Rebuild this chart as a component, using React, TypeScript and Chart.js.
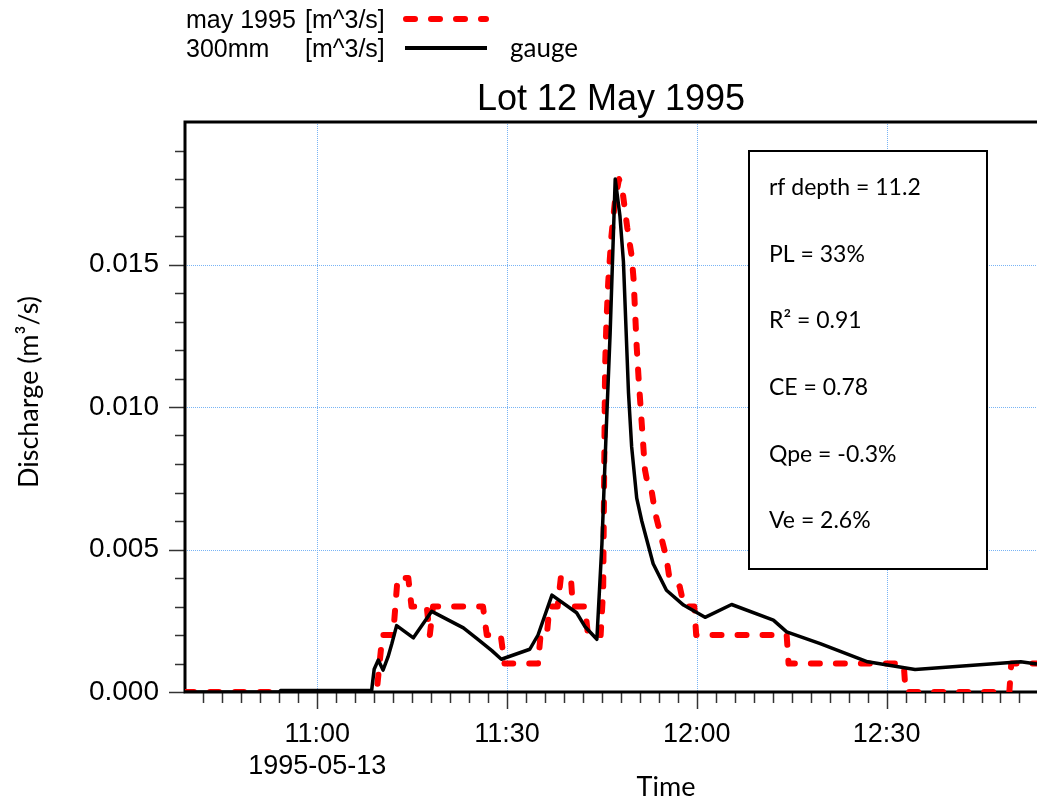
import React, { useEffect, useRef } from 'react';
import { Chart, registerables } from 'chart.js';

Chart.register(...registerables);

// ---- data (minutes after 11:00 on 1995-05-13, discharge in m^3/s) ----
const gaugeMinutes = [-20.9, -6, -5.8, 8.6, 9.0, 9.65, 10.4, 11.2, 11.8, 12.55, 15.2, 18.1, 23.1, 25.4, 27.6, 29.1, 33.6, 34.9, 37.1, 41.0, 42.3, 44.2, 45.0, 45.7, 46.3, 47.1, 47.85, 48.4, 49.2, 49.7, 50.5, 51.3, 53.1, 55.2, 57.9, 61.3, 65.5, 72.1, 74.2, 79.5, 87.0, 94.5, 111.2, 113.77];
const gaugeFlow = [0, 0, 0.00005, 0.00005, 0.0008, 0.00112, 0.00077, 0.00124, 0.0017, 0.00233, 0.0019, 0.00283, 0.00225, 0.00185, 0.00145, 0.00115, 0.0015, 0.002, 0.0034, 0.00278, 0.0023, 0.00185, 0.0052, 0.0093, 0.0126, 0.018, 0.0167, 0.0151, 0.0105, 0.0086, 0.0068, 0.006, 0.0045, 0.00357, 0.00305, 0.00262, 0.00307, 0.00252, 0.00211, 0.0017, 0.00106, 0.00079, 0.00106, 0.00098];

const modelMinutes = [-20.9, 9.4, 10.3, 12.0, 12.7, 14.4, 14.9, 17.3, 17.8, 18.3, 26.2, 26.8, 29.0, 29.6, 34.9, 35.3, 36.3, 36.7, 38.0, 38.5, 40.1, 40.4, 42.3, 42.8, 44.8, 45.2, 45.5, 45.7, 46.0, 46.5, 47.05, 47.7, 48.3, 49.0, 49.7, 50.0, 50.5, 50.8, 51.3, 51.8, 52.4, 52.9, 53.4, 54.3, 55.2, 55.6, 56.3, 57.3, 57.9, 58.2, 59.6, 59.9, 74.2, 74.5, 92.7, 93.0, 109.4, 109.7, 113.77];
const modelFlow = [0, 0, 0.002, 0.002, 0.004, 0.004, 0.003, 0.003, 0.002, 0.003, 0.003, 0.002, 0.002, 0.001, 0.001, 0.002, 0.002, 0.003, 0.003, 0.004, 0.004, 0.003, 0.003, 0.002, 0.002, 0.0036, 0.0114, 0.0129, 0.0144, 0.016, 0.0172, 0.018, 0.0175, 0.0163, 0.0153, 0.0145, 0.0121, 0.011, 0.0094, 0.0078, 0.0071, 0.007, 0.0063, 0.0055, 0.0047, 0.0041, 0.004, 0.0037, 0.0031, 0.003, 0.003, 0.002, 0.002, 0.001, 0.001, 0, 0, 0.001, 0.001];

const xTickMinutes = [0, 30, 60, 90];
const xTickLabels = ['11:00', '11:30', '12:00', '12:30'];
const xDateLabel = '1995-05-13';
const yTickValues = [0, 0.005, 0.01, 0.015];
const yTickLabels = ['0.000', '0.005', '0.010', '0.015'];

const chartTitle = 'Lot 12 May 1995';
const legendNames = ['may 1995', '300mm'];
const legendUnit = '[m^3/s]';
const legendExtra = 'gauge';
const statLines = ['rf depth = 11.2', 'PL = 33%', 'R\u00B2 = 0.91', 'CE = 0.78', 'Qpe = -0.3%', 'Ve = 2.6%'];
const yAxisTitle = 'Discharge (m\u00B3/s)';
const xAxisTitle = 'Time';

const ARIAL = '"Liberation Sans", Arial, sans-serif';
const CALIBRI = 'Lato, "Open Sans", sans-serif';

const decorPlugin = {
  id: 'decor',
  beforeDatasetsDraw(chart: any) {
    const { ctx, chartArea: a, scales } = chart;
    const x = scales.x;
    const y = scales.y;
    ctx.save();
    // dotted grid lines
    ctx.strokeStyle = 'rgb(120,180,245)';
    ctx.lineWidth = 1;
    ctx.setLineDash([1, 1]);
    for (const v of xTickMinutes) {
      const px = Math.round(x.getPixelForValue(v)) + 0.5;
      ctx.beginPath();
      ctx.moveTo(px, a.top);
      ctx.lineTo(px, a.bottom);
      ctx.stroke();
    }
    for (const v of yTickValues.slice(1)) {
      const py = Math.round(y.getPixelForValue(v)) + 0.5;
      ctx.beginPath();
      ctx.moveTo(a.left, py);
      ctx.lineTo(a.right, py);
      ctx.stroke();
    }
    ctx.setLineDash([]);

    // stats box
    ctx.fillStyle = '#ffffff';
    ctx.fillRect(749, 151, 238, 418);
    ctx.strokeStyle = '#000';
    ctx.lineWidth = 2;
    ctx.strokeRect(749, 151, 238, 418);

    // tick marks
    ctx.strokeStyle = '#333';
    ctx.lineWidth = 1.5;
    for (let m = -18; m <= 111; m += 3) {
      const px = Math.round(x.getPixelForValue(m)) + 0.5;
      const len = m % 30 === 0 ? 17 : 11;
      ctx.beginPath();
      ctx.moveTo(px, a.bottom);
      ctx.lineTo(px, a.bottom + len);
      ctx.stroke();
    }
    for (let k = 0; k <= 19; k++) {
      const py = Math.round(y.getPixelForValue(k * 0.001)) + 0.5;
      const len = k % 5 === 0 ? 16 : 10;
      ctx.beginPath();
      ctx.moveTo(a.left, py);
      ctx.lineTo(a.left - len, py);
      ctx.stroke();
    }

    // frame (left, top, bottom)
    ctx.strokeStyle = '#000';
    ctx.lineWidth = 3;
    ctx.beginPath();
    ctx.moveTo(a.right + 3, a.top);
    ctx.lineTo(a.left, a.top);
    ctx.lineTo(a.left, a.bottom);
    ctx.lineTo(a.right + 3, a.bottom);
    ctx.stroke();
    ctx.restore();
  },
  afterDraw(chart: any) {
    const { ctx, chartArea: a } = chart;
    ctx.save();
    ctx.fillStyle = '#000';
    ctx.textBaseline = 'alphabetic';

    // legend
    ctx.font = `25px ${ARIAL}`;
    ctx.textAlign = 'left';
    ctx.fillText(legendNames[0], 186, 28);
    ctx.fillText(legendUnit, 305, 28);
    ctx.fillText(legendNames[1], 186, 57);
    ctx.fillText(legendUnit, 305, 57);

    ctx.strokeStyle = 'rgb(255,0,0)';
    ctx.lineWidth = 6;
    ctx.lineCap = 'round';
    ctx.setLineDash([9, 16]);
    ctx.beginPath();
    ctx.moveTo(406, 19);
    ctx.lineTo(486, 19);
    ctx.stroke();
    ctx.setLineDash([]);
    ctx.lineCap = 'butt';
    ctx.strokeStyle = '#000';
    ctx.lineWidth = 4;
    ctx.beginPath();
    ctx.moveTo(405, 48);
    ctx.lineTo(487, 48);
    ctx.stroke();

    ctx.font = `26px ${CALIBRI}`;
    ctx.fillText(legendExtra, 510, 57);

    // title
    ctx.font = `36px ${ARIAL}`;
    ctx.textAlign = 'center';
    ctx.fillText(chartTitle, (a.left + a.right) / 2, 110);

    // stats
    ctx.font = `23px ${CALIBRI}`;
    ctx.textAlign = 'left';
    statLines.forEach((s, i) => {
      ctx.fillText(s, 769, 195 + i * 66.67);
    });

    // axis titles
    ctx.font = `27px ${CALIBRI}`;
    ctx.textAlign = 'center';
    ctx.fillText(xAxisTitle, 666, 796);
    ctx.save();
    ctx.translate(38, 392);
    ctx.rotate(-Math.PI / 2);
    ctx.fillText(yAxisTitle, 0, 0);
    ctx.restore();

    ctx.restore();
  },
};

export default function App() {
  const canvasRef = useRef<HTMLCanvasElement | null>(null);

  useEffect(() => {
    if (!canvasRef.current) return;
    const chart = new Chart(canvasRef.current, {
      type: 'line',
      data: {
        datasets: [
          {
            label: '300mm [m^3/s] gauge',
            data: gaugeMinutes.map((m, i) => ({ x: m, y: gaugeFlow[i] })),
            borderColor: '#000',
            borderWidth: 3.5,
            borderJoinStyle: 'round',
            pointRadius: 0,
            tension: 0,
            order: 0,
          },
          {
            label: 'may 1995 [m^3/s]',
            data: modelMinutes.map((m, i) => ({ x: m, y: modelFlow[i] })),
            borderColor: 'rgb(255,0,0)',
            borderWidth: 6,
            borderDash: [9, 16],
            borderCapStyle: 'round',
            borderJoinStyle: 'round',
            pointRadius: 0,
            tension: 0,
            order: 1,
          },
        ],
      },
      options: {
        responsive: false,
        animation: false,
        devicePixelRatio: 1,
        layout: { padding: { top: 122, left: 0, right: 0, bottom: 0 } },
        plugins: {
          legend: { display: false },
          title: { display: false },
          tooltip: { enabled: false },
        },
        scales: {
          x: {
            type: 'linear',
            min: -20.9,
            max: 113.77,
            afterBuildTicks: (s: any) => {
              s.ticks = xTickMinutes.map((v) => ({ value: v }));
            },
            afterFit: (s: any) => {
              s.height = 106;
            },
            grid: { display: false, drawTicks: false },
            border: { display: false },
            ticks: {
              autoSkip: false,
              maxRotation: 0,
              minRotation: 0,
              padding: 26,
              color: '#000',
              font: { family: ARIAL, size: 27 },
              callback: (v: any) => {
                const i = xTickMinutes.indexOf(Number(v));
                if (i < 0) return '';
                return i === 0 ? [xTickLabels[0], xDateLabel] : xTickLabels[i];
              },
            },
          },
          y: {
            type: 'linear',
            min: 0,
            max: 0.02,
            afterBuildTicks: (s: any) => {
              s.ticks = yTickValues.map((v) => ({ value: v }));
            },
            afterFit: (s: any) => {
              s.width = 185;
            },
            grid: { display: false, drawTicks: false },
            border: { display: false },
            ticks: {
              autoSkip: false,
              padding: 26,
              color: '#000',
              font: { family: ARIAL, size: 28 },
              callback: (v: any) => {
                const i = yTickValues.findIndex((t) => Math.abs(t - Number(v)) < 1e-9);
                return i < 0 ? '' : yTickLabels[i];
              },
            },
          },
        },
      },
      plugins: [decorPlugin],
    } as any);
    return () => chart.destroy();
  }, []);

  return (
    <div style={{ position: 'fixed', left: 0, top: 0, width: 1037, height: 798, background: '#fff' }}>
      <canvas ref={canvasRef} width={1037} height={798} style={{ display: 'block', width: 1037, height: 798 }} />
    </div>
  );
}
